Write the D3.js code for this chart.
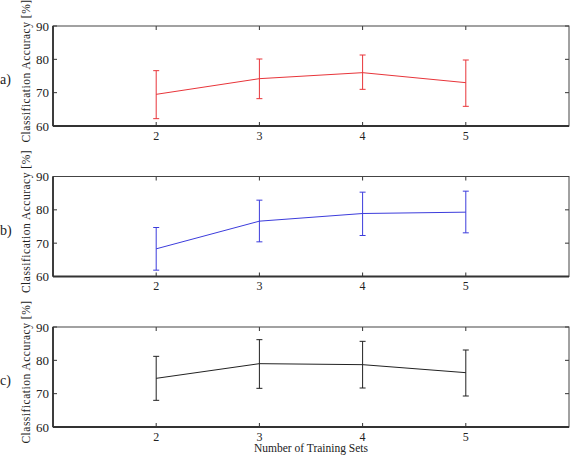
<!DOCTYPE html>
<html><head><meta charset="utf-8">
<script src="https://cdn.jsdelivr.net/npm/d3@7"></script>
<style>body{margin:0;background:#fff}svg{display:block}text{font-family:"Liberation Serif","Times New Roman",serif;fill:#222}</style>
</head><body>
<script>
const trainingSets = [2, 3, 4, 5];
const yTicks = [60, 70, 80, 90];
const panelLabels = ["a)", "b)", "c)"];
const colors = ["#e8353a", "#3c3cdc", "#222222"];
const meanA = [69.5, 74.2, 76.0, 73.0];
const upA   = [76.6, 80.1, 81.3, 79.8];
const lowA  = [62.2, 68.2, 71.0, 65.9];
const meanB = [68.3, 76.6, 78.9, 79.3];
const upB   = [74.7, 82.9, 85.3, 85.6];
const lowB  = [61.9, 70.4, 72.3, 73.1];
const meanC = [74.6, 79.0, 78.7, 76.3];
const upC   = [81.2, 86.2, 85.7, 83.1];
const lowC  = [68.0, 71.6, 71.7, 69.3];
const series = [[meanA, upA, lowA], [meanB, upB, lowB], [meanC, upC, lowC]];

const W = 574, H = 455;
const svg = d3.select("body").append("svg").attr("width", W).attr("height", H);
const left = 53, right = 569;
const tops = [26, 176.5, 327];
const ph = 100;
const x = d3.scaleLinear().domain([1, 6]).range([left, right]);

series.forEach((s, i) => {
  const [mean, up, low] = s;
  const top = tops[i];
  const y = d3.scaleLinear().domain([60, 90]).range([top + ph, top]);
  const g = svg.append("g");
  const tl = 4;
  trainingSets.forEach(v => {
    g.append("line").attr("x1", x(v)).attr("x2", x(v)).attr("y1", top + ph).attr("y2", top + ph - tl).attr("stroke", "#333");
    g.append("line").attr("x1", x(v)).attr("x2", x(v)).attr("y1", top).attr("y2", top + tl).attr("stroke", "#333");
    g.append("text").attr("x", x(v)).attr("y", top + ph + 13.5).attr("text-anchor", "middle").attr("font-size", 12).text(v);
  });
  yTicks.forEach(v => {
    g.append("line").attr("x1", left).attr("x2", left + tl).attr("y1", y(v)).attr("y2", y(v)).attr("stroke", "#333");
    g.append("line").attr("x1", right).attr("x2", right - tl).attr("y1", y(v)).attr("y2", y(v)).attr("stroke", "#333");
    g.append("text").attr("x", left - 4).attr("y", y(v) + 4.5).attr("text-anchor", "end").attr("font-size", 13).text(v);
  });
  g.append("rect").attr("x", left).attr("y", top).attr("width", right - left).attr("height", ph)
    .attr("fill", "none").attr("stroke", "#444").attr("stroke-width", 1);
  g.append("line").attr("x1", left).attr("x2", right).attr("y1", top + ph).attr("y2", top + ph).attr("stroke", "#333").attr("stroke-width", 1.8);
  g.append("line").attr("x1", left).attr("x2", left).attr("y1", top).attr("y2", top + ph).attr("stroke", "#333").attr("stroke-width", 1.8);
  const c = colors[i];
  trainingSets.forEach((v, j) => {
    g.append("line").attr("x1", x(v)).attr("x2", x(v)).attr("y1", y(low[j])).attr("y2", y(up[j])).attr("stroke", c);
    [up[j], low[j]].forEach(e => g.append("line").attr("x1", x(v) - 3).attr("x2", x(v) + 3).attr("y1", y(e)).attr("y2", y(e)).attr("stroke", c));
  });
  const line = d3.line().x((d, j) => x(trainingSets[j])).y(d => y(d));
  g.append("path").datum(mean).attr("d", line).attr("fill", "none").attr("stroke", c).attr("stroke-width", 1);
  g.append("text").attr("transform", `translate(30,${top + ph / 2 - 5}) rotate(-90)`).attr("text-anchor", "middle")
    .attr("font-size", 11.5).attr("letter-spacing", 0.5).text("Classification Accuracy [%]");
  g.append("text").attr("x", 0).attr("y", top + ph / 2 + 8).attr("font-size", 14).text(panelLabels[i]);
});
svg.append("text").attr("x", x(3.5)).attr("y", 452).attr("text-anchor", "middle").attr("font-size", 11.5).text("Number of Training Sets");
</script>
</body></html>
